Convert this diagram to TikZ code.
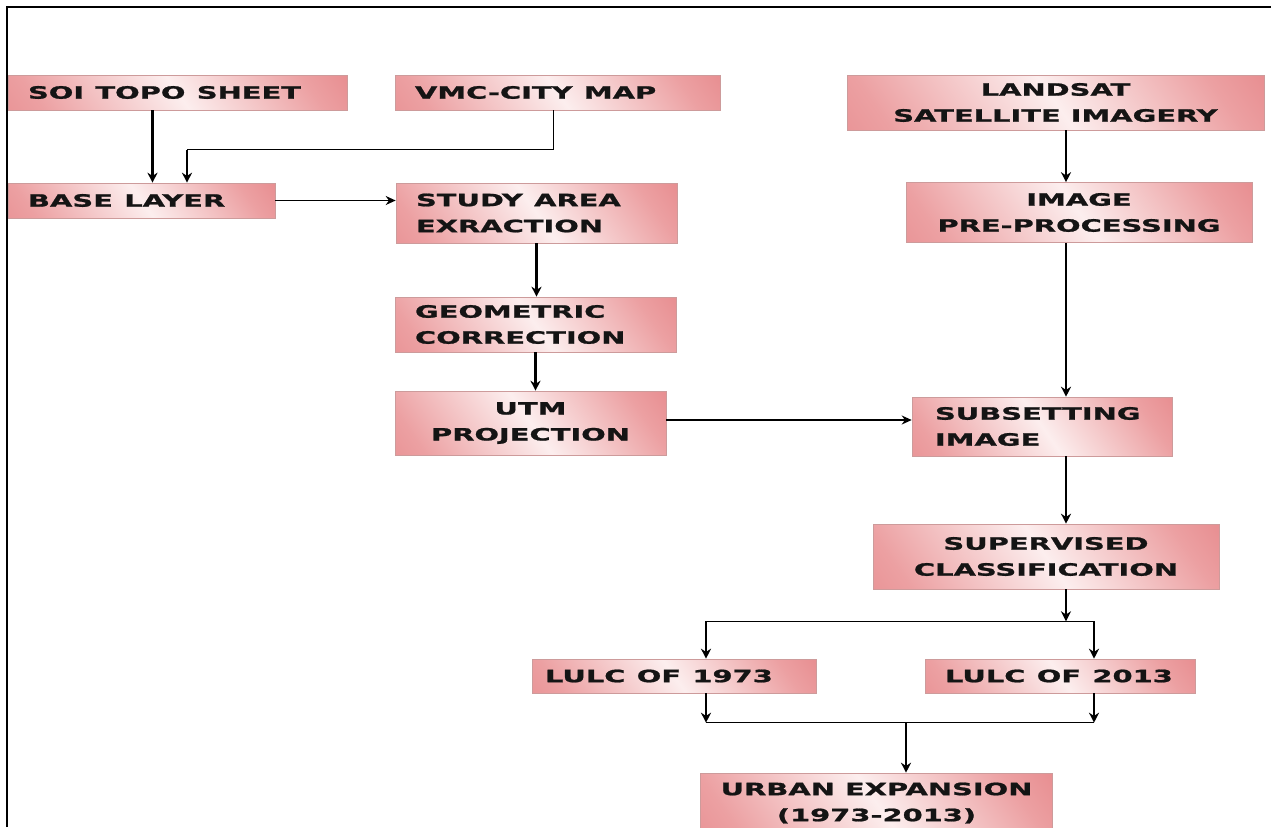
\documentclass[tikz,border=0pt]{standalone}
\usepackage{fontspec}
\usepackage{xcolor}
\usetikzlibrary{arrows.meta, positioning, calc}
\newfontfamily\boxfont[FakeStretch=1.7, FakeBold=1.2]{DejaVu Sans}
\newcommand\boxtext{\boxfont\bfseries\fontsize{17}{26}\selectfont\hyphenpenalty10000\exhyphenpenalty10000}
\definecolor{boxdark}{RGB}{224,112,116}
\definecolor{boxmid}{RGB}{236,160,162}
\definecolor{boxlight}{RGB}{252,238,238}
\definecolor{boxedge}{RGB}{205,155,155}
\pgfdeclarehorizontalshading{boxshade}{100bp}{color(0bp)=(boxdark!70!boxmid); color(22bp)=(boxmid); color(50bp)=(boxlight); color(76bp)=(boxmid); color(100bp)=(boxdark)}
\tikzstyle{box} = [draw=boxedge, line width=0.6pt, shading=boxshade, shading angle=35, inner xsep=20pt, inner ysep=2pt, align=left, font=\boxtext, text=black!92]
\tikzstyle{flow} = [line width=2.4pt,->,>={Stealth[length=10pt,width=10pt]}]
\tikzstyle{hflow} = [line width=1.5pt,->,>={Stealth[length=10pt,width=9pt]}]
\tikzstyle{link} = [line width=1pt]
\tikzstyle{hline} = [line width=1.5pt]

\begin{document}
\begin{tikzpicture}[x=1pt, y=1pt, node distance=110pt]
      \useasboundingbox (0,0) rectangle (1271,-827);
      \draw [line width=2pt] (7,-827) -- (7,-7) -- (1271,-7);
      % data sources
      \node (soi) [box, text width=299pt, minimum height=35pt] at (177.5,-92.5) {SOI~~TOPO~~SHEET};
      \node (vmc) [box, text width=285pt, minimum height=35pt, right of=soi, xshift=270pt] {VMC-CITY~~MAP};
      \node (landsat) [box, align=center, minimum width=417pt, minimum height=55pt, right of=vmc, xshift=388pt, yshift=-10pt] {LANDSAT\\SATELLITE~IMAGERY};
      \node (base) [box, text width=227pt, minimum height=35pt, below of=soi, xshift=-36pt, yshift=2pt] {BASE~~LAYER};
      \node (study) [box, text width=241pt, minimum height=60pt, below of=vmc, xshift=-21pt, yshift=-10.5pt] {STUDY~~AREA\\EXRACTION};
      \node (imgpre) [box, align=center, minimum width=346pt, minimum height=60pt, below of=landsat, xshift=23.5pt] {IMAGE\\PRE-PROCESSING};
      \node (geo) [box, text width=241pt, minimum height=55pt, below of=study, xshift=-1pt, yshift=-1.5pt] {GEOMETRIC\\CORRECTION};
      \node (utm) [box, align=center, minimum width=271pt, minimum height=64pt, below of=geo, xshift=-5pt, yshift=11.5pt] {UTM\\PROJECTION};
      \node (subset) [box, inner xsep=23pt, text width=214pt, minimum height=59pt, right of=utm, xshift=401.5pt, yshift=-3.5pt] {SUBSETTING\\IMAGE};
      \node (superv) [box, align=center, minimum width=346pt, minimum height=65pt, below of=subset, xshift=4pt, yshift=-20pt] {SUPERVISED\\CLASSIFICATION};
      \node (lulc13) [box, text width=230pt, minimum height=34pt, below of=superv, xshift=14pt, yshift=-9.5pt] {LULC~~OF~~2013};
      \node (lulc73) [box, inner xsep=13pt, text width=258pt, minimum height=34pt, left of=lulc13, xshift=-276pt] {LULC~~OF~~1973};
      \node (urban) [box, align=center, minimum width=341pt, minimum height=60pt, below of=lulc73, xshift=202.5pt, yshift=-17pt] {URBAN~EXPANSION\\(1973-2013)};
      % helper points
      \coordinate (s1) at ([xshift=-25pt]soi.south);
      \coordinate (bend) at ([xshift=45.5pt,yshift=33pt]base.north);
      \coordinate (v1) at ([xshift=-4.5pt]vmc.south);
      \coordinate (l1) at ([xshift=10.5pt]landsat.south);
      \coordinate (p1) at ([xshift=-13pt]imgpre.south);
      \coordinate (u1) at ([yshift=3pt]utm.east);
      \coordinate (b1) at ([xshift=24pt]subset.south);
      \coordinate (c1) at ([xshift=20pt]superv.south);
      \coordinate (split) at ([yshift=-32pt]c1);
      \coordinate (a73) at ([xshift=32pt]lulc73.north);
      \coordinate (a13) at ([xshift=34pt]lulc13.north);
      \coordinate (b73) at ([xshift=32pt]lulc73.south);
      \coordinate (b13) at ([xshift=34pt]lulc13.south);
      \coordinate (merge) at ([xshift=29.5pt,yshift=50pt]urban.north);
      % connectors
      \draw [flow] (s1) -- (s1 |- base.north);
      \draw [link] (v1) |- (bend);
      \draw [flow] (bend) -- (bend |- base.north);
      \draw [hflow] (base.east) -- (study.west |- base.east);
      \draw [flow] (study.south) -- (study.south |- geo.north);
      \draw [flow] (geo.south) -- (geo.south |- utm.north);
      \draw [flow] (l1) -- (l1 |- imgpre.north);
      \draw [flow] (p1) -- (p1 |- subset.north);
      \draw [hflow] (u1) -- (u1 -| subset.west);
      \draw [flow] (b1) -- (b1 |- superv.north);
      \draw [flow] (c1) -- (split);
      \draw [hline] (a73 |- split) -- (a13 |- split);
      \draw [flow] (a73 |- split) -- (a73);
      \draw [flow] (a13 |- split) -- (a13);
      \draw [flow] (b73) -- (b73 |- merge);
      \draw [flow] (b13) -- (b13 |- merge);
      \draw [hline] (b73 |- merge) -- (b13 |- merge);
      \draw [flow] (merge) -- (merge |- urban.north);
    \end{tikzpicture}
\end{document}
